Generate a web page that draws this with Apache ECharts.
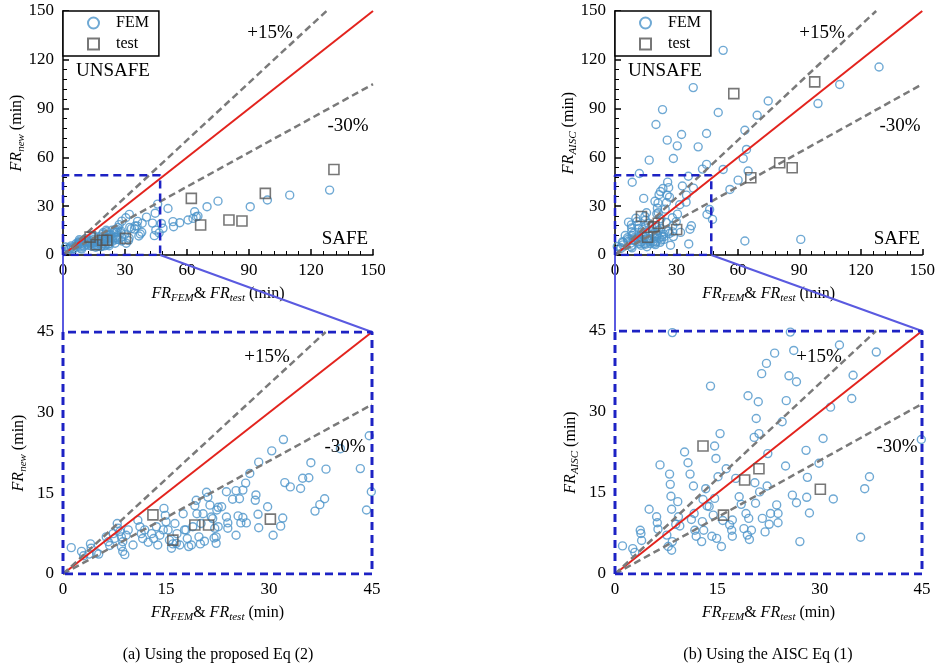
<!DOCTYPE html>
<html>
<head>
<meta charset="utf-8">
<script src="https://cdn.jsdelivr.net/npm/echarts@6/dist/echarts.min.js"></script>
<style>
html, body { margin: 0; padding: 0; background: #fff; }
#echart { width: 938px; height: 667px; }
</style>
</head>
<body>
<div id="echart"></div>
<script>
var dom = document.getElementById("echart");
var myChart = echarts.init(dom);

var serif = '"Liberation Serif", "Times New Roman", serif';

// FEM points, [FR_FEM, FR_new] (min) - panel (a)
var femNew = [
    [1.2,4.9],[2.7,4.2],[3.0,3.4],[4.0,5.6],[4.1,4.8],[3.8,3.7],[4.9,3.9],[5.2,3.7],[6.3,6.9],[6.6,6.0],
    [6.8,5.3],[7.5,6.6],[7.9,9.4],[8.0,8.5],[8.3,7.9],[8.5,6.9],[8.7,6.0],[8.5,5.1],[8.7,4.2],[9.0,3.6],
    [9.2,7.2],[9.5,8.2],[10.2,5.4],[10.9,10.0],[11.2,8.8],[11.4,7.5],[11.6,6.6],[11.9,8.2],[12.4,5.9],[12.9,7.5],
    [13.2,6.6],[13.6,8.8],[13.8,5.4],[14.1,7.2],[14.7,12.2],[14.9,10.9],[15.0,9.7],[15.3,8.2],[15.5,6.3],[15.8,4.8],
    [16.3,9.4],[16.6,7.5],[16.0,5.6],[17.0,5.4],[17.5,11.2],[17.7,8.2],[18.1,6.6],[18.7,5.4],[19.2,12.7],[19.5,11.2],
    [19.8,6.9],[20.0,5.6],[19.4,13.7],[20.9,15.2],[21.1,14.3],[21.4,12.8],[21.6,10.6],[22.1,8.5],[22.0,6.7],[22.4,11.9],
    [14.6,8.2],[16.5,5.7],[17.9,8.2],[18.3,5.1],[18.9,8.8],[20.1,9.4],[20.6,6.1],[21.8,10.3],[20.4,11.2],[7.3,7.5],
    [22.3,6.9],[22.6,8.8],[22.3,5.7],[22.6,12.4],[23.1,12.5],[23.8,15.3],[23.8,10.6],[24.0,9.5],[24.0,8.5],[24.7,13.9],
    [25.2,15.5],[25.7,14.0],[25.5,10.8],[25.9,9.5],[25.2,7.2],[26.2,10.5],[26.7,9.5],[26.2,15.6],[26.6,16.9],[27.2,18.7],
    [28.1,14.7],[28.0,13.7],[28.4,11.1],[28.5,8.6],[28.5,20.8],[29.8,12.5],[30.4,22.9],[30.6,7.2],[31.7,8.9],[32.0,10.4],
    [32.1,25.0],[32.3,17.0],[33.1,16.2],[34.6,15.9],[34.9,17.8],[35.8,17.9],[36.1,20.7],[36.7,11.7],[37.4,12.9],[38.1,14.0],
    [38.3,19.5],[40.4,23.3],[43.3,19.6],[44.2,11.9],[44.6,25.7],[44.9,15.3],
    [45.8,31.3],[47.6,19.4],[48.4,16.4],[46.5,13.5],[50.8,28.6],[53.2,20.5],[53.5,17.4],[56.5,19.8],[60.5,21.5],[62.9,22.5],
    [63.7,26.6],[64.5,23.5],[65.3,23.9],[69.7,29.7],[75.0,33.1],[90.6,29.7],[98.9,33.8],[109.7,36.8],[129.0,39.9]
];

// FEM points, [FR_FEM, FR_AISC] (min) - panel (b)
var femAisc = [
    [1.1,5.2],[2.6,4.7],[2.9,4.0],[3.7,8.1],[3.8,7.5],[3.9,6.2],[5.0,12.0],[6.1,10.6],[6.2,9.5],[6.3,8.3],
    [6.6,20.2],[7.6,7.2],[7.8,5.1],[8.0,18.5],[8.1,16.6],[8.2,14.4],[8.3,12.0],[8.4,6.0],[8.3,4.4],[8.4,44.7],
    [8.9,9.2],[9.2,13.4],[9.3,10.6],[9.5,8.9],[10.2,22.6],[10.7,20.6],[11.0,18.5],[11.2,10.1],[11.5,16.3],[11.6,11.2],
    [11.7,8.1],[11.9,7.0],[12.7,6.0],[12.8,9.7],[12.9,13.8],[13.0,8.1],[13.3,15.8],[13.5,12.6],[13.8,12.5],[14.0,34.8],
    [14.2,7.0],[14.4,10.9],[14.6,14.0],[14.6,23.7],[14.8,21.4],[14.9,6.6],[15.1,18.0],[15.4,26.0],[15.6,5.1],[15.8,9.9],
    [16.3,19.5],[16.8,9.1],[17.1,8.1],[17.2,7.0],[17.2,10.0],[17.7,17.7],[18.2,14.3],[18.5,12.9],[18.9,8.4],[19.2,11.2],
    [19.4,7.2],[19.5,33.0],[19.6,10.3],[19.7,6.4],[20.0,8.1],[20.4,25.3],[20.5,16.9],[20.6,13.1],[20.7,28.8],[21.0,31.9],
    [21.1,26.0],[21.2,15.2],[21.5,37.1],[21.6,10.3],[22.0,7.8],[22.2,39.0],[22.3,16.3],[22.4,22.3],[22.6,9.2],[22.8,11.2],
    [23.4,40.9],[23.7,12.8],[23.9,11.2],[23.9,9.5],[24.5,28.2],[25.0,20.0],[25.1,32.1],[25.5,36.7],[25.7,44.8],[26.0,14.6],
    [26.2,41.4],[26.6,35.6],[26.6,13.2],[27.1,6.0],[28.0,22.9],[28.1,14.2],[28.2,17.9],[28.5,11.3],[29.9,20.5],[30.5,25.1],
    [31.6,30.9],[32.0,13.9],[32.9,42.4],[34.7,32.5],[34.9,36.8],[36.0,6.8],[36.6,15.8],[37.3,18.0],[38.3,41.1],[44.9,24.9],
    [52.8,125.8],[38.2,102.9],[23.2,89.4],[20.0,80.2],[50.4,87.6],[25.5,70.6],[32.5,74.1],[30.4,67.1],[40.6,66.5],[44.7,74.7],
    [16.7,58.3],[28.5,59.3],[11.9,50.1],[35.8,48.4],[42.7,52.8],[44.7,55.7],[52.8,52.6],[56.1,40.3],[60.1,46.0],[62.6,59.3],
    [63.4,76.7],[64.2,64.9],[65.0,51.6],[69.4,85.9],[74.8,94.7],[63.4,8.6],[90.7,9.6],[99.1,93.1],[109.7,104.8],[128.9,115.6],
    [47.6,21.9],[46.2,28.0]
];

// fire tests, [FR_test, predicted] (min)
var testNew = [[13.1,11.0],[16.0,6.3],[19.2,9.1],[21.2,9.1],[30.2,10.2],[62.1,34.8],[66.6,18.4],[80.3,21.5],[86.6,20.9],[97.9,37.9],[131.1,52.6]];
var testAisc = [[12.9,23.7],[15.9,10.9],[19.0,17.4],[21.1,19.5],[30.1,15.7],[58.0,99.2],[66.3,47.5],[80.4,56.7],[86.5,53.6],[97.5,106.4]];

var slopes = [1, 1 / 0.85, 0.7];    // y = x, +15%, -30%
var zoomBox = [47, 49];
var bigMax = 150, smallMax = 45;

function refLine(slope, max) {
    var xe = Math.min(max, max / slope);
    return [[0, 0], [xe, xe * slope]];
}
function within(arr, max) {
    return arr.filter(function (p) { return p[0] <= max && p[1] <= max; });
}

var nameRich = {
    i: { fontFamily: serif, fontStyle: 'italic', fontSize: 16, lineHeight: 21, color: '#000' },
    s: { fontFamily: serif, fontStyle: 'italic', fontSize: 11, lineHeight: 11, verticalAlign: 'bottom', color: '#000' },
    t: { fontFamily: serif, fontSize: 16, lineHeight: 21, color: '#000' }
};

function makeX(g, max, interval, big) {
    return {
        type: 'value', gridIndex: g, min: 0, max: max, interval: interval,
        name: '{i|FR}{s|FEM}{t|& }{i|FR}{s|test}{t| (min)}',
        nameLocation: 'middle', nameGap: 28,
        nameTextStyle: { rich: nameRich },
        axisLine: { show: big, onZero: false, lineStyle: { color: '#000', width: 1.5 } },
        axisTick: { show: big, inside: true, length: 6, lineStyle: { color: '#000', width: 1.5 } },
        minorTick: { show: big, splitNumber: 5, length: 4, lineStyle: { color: '#000', width: 1 } },
        axisLabel: { fontFamily: serif, fontSize: 17, color: '#000', margin: 7 },
        splitLine: { show: false }
    };
}
function makeY(g, max, interval, big, sub) {
    return {
        type: 'value', gridIndex: g, min: 0, max: max, interval: interval,
        name: '{i|FR}{s|' + sub + '}{t| (min)}',
        nameLocation: 'middle', nameGap: big ? 36 : 34, nameMoveOverlap: false,
        nameTextStyle: { rich: nameRich },
        axisLine: { show: big, onZero: false, lineStyle: { color: '#000', width: 1.5 } },
        axisTick: { show: big, inside: true, length: 6, lineStyle: { color: '#000', width: 1.5 } },
        minorTick: { show: big, splitNumber: 5, length: 4, lineStyle: { color: '#000', width: 1 } },
        axisLabel: { fontFamily: serif, fontSize: 17, color: '#000', margin: 9 },
        splitLine: { show: false }
    };
}

var panels = [
    { grid: 0, max: bigMax, fem: femNew, test: testNew, box: [zoomBox[0], zoomBox[1]] },
    { grid: 1, max: bigMax, fem: femAisc, test: testAisc, box: [zoomBox[0], zoomBox[1]] },
    { grid: 2, max: smallMax, fem: within(femNew, smallMax), test: within(testNew, smallMax), box: [smallMax, smallMax] },
    { grid: 3, max: smallMax, fem: within(femAisc, smallMax), test: within(testAisc, smallMax), box: [smallMax, smallMax] }
];

var series = [];
panels.forEach(function (p) {
    var big = p.max === bigMax;
    series.push({
        name: 'FEM', type: 'scatter', xAxisIndex: p.grid, yAxisIndex: p.grid,
        symbol: 'circle', symbolSize: 8, z: 2,
        itemStyle: { color: 'rgba(0,0,0,0)', borderColor: '#4b93c9', borderWidth: 1.4 },
        data: p.fem
    });
    series.push({
        name: 'test', type: 'scatter', xAxisIndex: p.grid, yAxisIndex: p.grid,
        symbol: 'rect', symbolSize: 10, z: 6,
        itemStyle: { color: 'rgba(0,0,0,0)', borderColor: '#555', borderWidth: 1.6 },
        data: p.test
    });
    slopes.forEach(function (s, k) {
        series.push({
            type: 'line', xAxisIndex: p.grid, yAxisIndex: p.grid, symbol: 'none', silent: true, z: 4,
            lineStyle: k === 0 ? { color: '#e3231d', width: 2 } : { color: '#7a7a7a', width: 2.5, type: [7, 4] },
            data: refLine(s, p.max)
        });
    });
    series.push({
        type: 'line', xAxisIndex: p.grid, yAxisIndex: p.grid, symbol: 'none', silent: true, z: 5,
        lineStyle: { color: '#1d22c4', width: big ? 2.5 : 3, type: [8, 5] },
        data: [[0, 0], [0, p.box[1]], [p.box[0], p.box[1]], [p.box[0], 0], [0, 0]]
    });
});

var option = {
    animation: false,
    backgroundColor: '#fff',
    grid: [
        { left: 63, top: 11, width: 310, height: 244 },
        { left: 615, top: 11, width: 308, height: 244 },
        { left: 63, top: 332, width: 309, height: 242 },
        { left: 615, top: 331, width: 307, height: 243 }
    ],
    xAxis: [makeX(0, bigMax, 30, true), makeX(1, bigMax, 30, true), makeX(2, smallMax, 15, false), makeX(3, smallMax, 15, false)],
    yAxis: [makeY(0, bigMax, 30, true, 'new'), makeY(1, bigMax, 30, true, 'AISC'), makeY(2, smallMax, 15, false, 'new'), makeY(3, smallMax, 15, false, 'AISC')],
    legend: [63, 615].map(function (l) {
        return {
            left: l, top: 11, orient: 'vertical', data: ['FEM', 'test'], selectedMode: false,
            backgroundColor: '#fff', borderColor: '#000', borderWidth: 1.5,
            padding: [4, 10, 4, 24], itemGap: 5, itemWidth: 11, itemHeight: 11,
            textStyle: { fontFamily: serif, fontSize: 16, color: '#000', padding: [0, 0, 0, 12] }
        };
    }),
    series: series
};

myChart.setOption(option);

// text labels + zoom connectors
function label(x, y, s, size, shadow) {
    var st = { text: s, fontFamily: serif, fontSize: size, fill: '#000', align: 'center', verticalAlign: 'middle' };
    if (shadow) {
        st.shadowColor = 'rgba(0,0,0,0.35)'; st.shadowBlur = 2; st.shadowOffsetX = 1; st.shadowOffsetY = 1;
    }
    return { type: 'text', x: x, y: y, z: 20, style: st };
}
function connector(a, b) {
    return { type: 'line', z: 1, shape: { x1: a[0], y1: a[1], x2: b[0], y2: b[1] }, style: { stroke: '#5a5ae0', lineWidth: 2 } };
}

var graphics = [];
[[0, 2, 0], [1, 3, 552]].forEach(function (g) {
    var top = g[0], bot = g[1], dx = g[2];
    graphics.push(connector(myChart.convertToPixel({ gridIndex: top }, [0, 0]), myChart.convertToPixel({ gridIndex: bot }, [0, smallMax])));
    graphics.push(connector(myChart.convertToPixel({ gridIndex: top }, [zoomBox[0], 0]), myChart.convertToPixel({ gridIndex: bot }, [smallMax, smallMax])));
    graphics.push(label(270 + dx, 33, '+15%', 19, true));
    graphics.push(label(348 + dx, 126, '-30%', 19, true));
    graphics.push(label(113 + dx, 71, 'UNSAFE', 19, true));
    graphics.push(label(345 + dx, 239, 'SAFE', 19, true));
    graphics.push(label(267 + dx, 357, '+15%', 19, true));
    graphics.push(label(345 + dx, 447, '-30%', 19, true));
});
graphics.push(label(218, 655, '(a) Using the proposed Eq (2)', 16, false));
graphics.push(label(768, 655, '(b) Using the AISC Eq (1)', 16, false));

myChart.setOption({ graphic: graphics });

window.addEventListener('resize', function () {
    myChart.resize();
});
</script>
</body>
</html>
